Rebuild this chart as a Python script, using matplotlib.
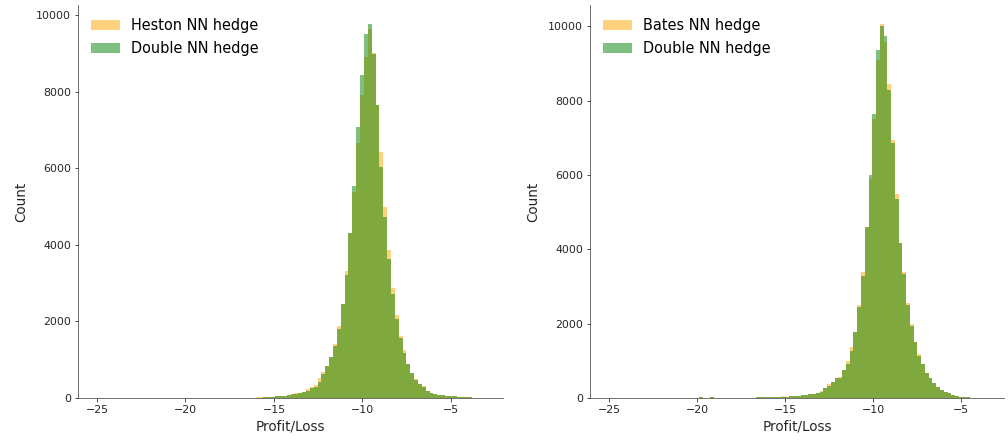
"""
    plot.py
    Two P&L histograms: single-model NN hedge vs double NN hedge.
"""

import numpy as np
import matplotlib
matplotlib.use("Agg")
import matplotlib.pyplot as plt

N_BINS = 100

# Heston panel: histogram range and counts from bin 41 on
heston_range = (-24.98, -3.15)
heston_first_bin = 41
heston_counts = [
    20, 25, 28, 32, 38, 45, 55, 65, 80, 100, 120, 140,
    160, 235, 280, 340, 530, 690, 845, 1060, 1400, 1880,
    2450, 3320, 4300, 5385, 6664, 7917, 8892, 9622, 9000, 7640,
    6412, 4977, 3863, 2863, 2166, 1626, 1253, 887, 661, 496,
    365, 313, 190, 135, 105, 90, 75, 60, 52, 45,
    38, 30, 22, 14, 8, 4, 2,
]
heston_double_counts = [
    0, 0, 15, 25, 32, 40, 50, 60, 75, 92, 110, 130,
    150, 190, 250, 300, 425, 625, 845, 1060, 1360, 1790,
    2450, 3210, 4300, 5533, 7065, 8422, 9492, 9770, 8990, 7639,
    6038, 4732, 3620, 2714, 2054, 1558, 1166, 887, 661, 470,
    365, 280, 190, 135, 105, 90, 75, 60, 52, 45,
    38, 30, 22, 14, 8, 4, 2,
]

# Bates panel: histogram range and counts from bin 24 on
bates_range = (-25.01, -3.63)
bates_first_bin = 24
bates_counts = [
    18, 0, 0, 15, 8, 0, 12, 0, 10, 5,
    6, 8, 10, 12, 13, 14, 15, 16, 18, 20,
    22, 25, 45, 38, 45, 55, 65, 75, 85, 95,
    105, 126, 197, 260, 376, 439, 529, 573, 753, 1003,
    1380, 1774, 2491, 3395, 4605, 5905, 7518, 9105, 10072, 9590,
    8440, 6935, 5500, 4165, 3395, 2545, 1981, 1513, 1174, 914,
    681, 529, 394, 287, 215, 152, 125, 80, 54, 40,
    28, 18, 10, 5, 2, 1,
]
bates_double_counts = [
    18, 0, 0, 15, 8, 0, 12, 0, 10, 5,
    6, 8, 10, 12, 13, 14, 15, 16, 18, 20,
    22, 25, 30, 38, 45, 55, 65, 75, 85, 95,
    105, 126, 170, 260, 331, 439, 529, 546, 753, 914,
    1272, 1774, 2437, 3280, 4605, 5995, 7634, 9355, 10010, 9750,
    8300, 6865, 5365, 4165, 3335, 2491, 1935, 1513, 1129, 914,
    681, 529, 394, 287, 215, 152, 125, 80, 54, 40,
    28, 18, 10, 5, 2, 1,
]

x_ticks = [-25, -20, -15, -10, -5]
y_ticks = [0, 2000, 4000, 6000, 8000, 10000]


def full_counts(first_bin, counts):
    out = np.zeros(N_BINS)
    out[first_bin:first_bin + len(counts)] = counts
    return out


def draw_panel(ax, value_range, first_bin, single, double, single_label, xlim):
    edges = np.linspace(value_range[0], value_range[1], N_BINS + 1)
    centers = 0.5 * (edges[:-1] + edges[1:])

    ax.hist(centers, bins=edges, weights=full_counts(first_bin, single),
            histtype="stepfilled", color="orange", alpha=0.5, label=single_label)
    ax.hist(centers, bins=edges, weights=full_counts(first_bin, double),
            histtype="stepfilled", color="green", alpha=0.5, label="Double NN hedge")

    ax.set_xlim(*xlim)
    ax.set_xticks(x_ticks)
    ax.set_yticks(y_ticks)
    ax.set_xlabel("Profit/Loss", fontsize=13.5, color="0.15")
    ax.set_ylabel("Count", fontsize=13.5, color="0.15", labelpad=8)
    ax.tick_params(labelsize=11, colors="0.15")
    for side in ["top", "right"]:
        ax.spines[side].set_visible(False)
    for side in ["left", "bottom"]:
        ax.spines[side].set_color("0.3")
    ax.legend(loc="upper left", frameon=False, fontsize=14.5,
              handlelength=2.0, handletextpad=0.75, labelspacing=0.55,
              borderaxespad=0.5)


def main():
    fig = plt.figure(figsize=(14, 442 / 72), dpi=72)
    ax1 = fig.add_axes([78 / 1008, 44 / 442, 425 / 1008, 393 / 442])
    ax2 = fig.add_axes([590 / 1008, 44 / 442, 414 / 1008, 393 / 442])

    draw_panel(ax1, heston_range, heston_first_bin, heston_counts,
               heston_double_counts, "Heston NN hedge", (-26.07, -2.06))
    draw_panel(ax2, bates_range, bates_first_bin, bates_counts,
               bates_double_counts, "Bates NN hedge", (-26.08, -2.56))

    fig.savefig("out.png", dpi=72)


if __name__ == "__main__":
    main()
